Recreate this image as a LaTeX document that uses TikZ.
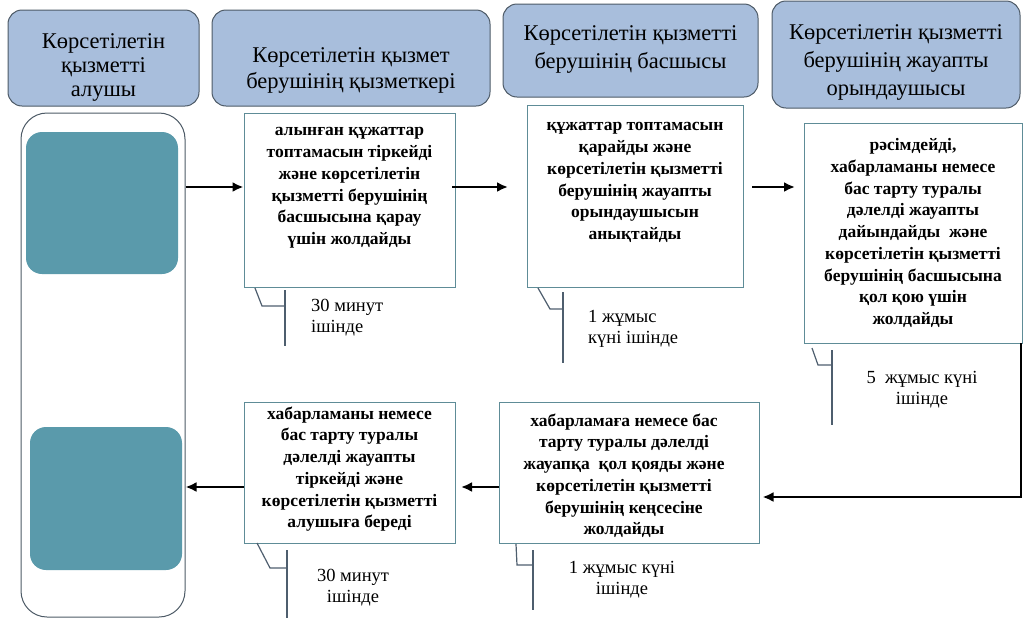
\documentclass[tikz,border=0pt]{standalone}
\usepackage{fontspec}
\setmainfont{Liberation Serif}
\newfontfamily\tnr{Liberation Serif}
\usetikzlibrary{arrows.meta}
\definecolor{headfill}{HTML}{A8BEDC}
\definecolor{headline}{HTML}{4D5A66}
\definecolor{tealfill}{HTML}{5A9AAB}
\definecolor{boxline}{HTML}{5E8C97}
\definecolor{callline}{HTML}{4E5E6E}
\tikzset{
  header/.style={draw=headline, line width=1pt, fill=headfill, rounded corners=14pt, inner sep=0pt},
  headtext/.style={align=center, font=\tnr\fontsize{22.5}{26}\selectfont, inner sep=0pt},
  stepbox/.style={draw=boxline, line width=1pt, fill=white, inner sep=0pt},
  steptext/.style={align=center, font=\tnr\bfseries\fontsize{17.5}{21.7}\selectfont, inner sep=0pt, anchor=north},
  tealbox/.style={fill=tealfill, rounded corners=16pt, inner sep=0pt},
  lane/.style={draw=headline, line width=1pt, rounded corners=26pt, inner sep=0pt},
  flow/.style={line width=2.6pt, -{Latex[length=11pt,width=10pt]}},
  bracket/.style={draw=callline, line width=1.2pt},
  timetext/.style={align=left, font=\tnr\fontsize{18.5}{21}\selectfont, inner sep=0pt},
}
\begin{document}
\begin{tikzpicture}[x=1pt,y=-1pt]
\useasboundingbox (0,0) rectangle (1023,619);

% column headers
\node[header, minimum width=191pt, minimum height=96pt] (h1) at (103.5,58) {};
\node[headtext, font=\tnr\fontsize{22.5}{24}\selectfont] (h1t) at ([yshift=-9pt]h1.center) {Көрсетілетін\\қызметті\\алушы};
\node[header, minimum width=278pt, minimum height=96pt] (h2) at (351,58) {};
\node[headtext] (h2t) at ([yshift=-12pt]h2.center) {Көрсетілетін қызмет\\берушінің қызметкері};
\node[header, minimum width=255pt, minimum height=93pt] (h3) at (630.5,50.5) {};
\node[headtext, font=\tnr\fontsize{22.5}{28}\selectfont] (h3t) at ([yshift=1pt]h3.center) {Көрсетілетін қызметті\\берушінің басшысы};
\node[header, minimum width=248pt, minimum height=107pt] (h4) at (896,54.5) {};
\node[headtext, font=\tnr\fontsize{22.5}{28}\selectfont] (h4t) at ([yshift=-8pt]h4.center) {Көрсетілетін қызметті\\берушінің жауапты\\орындаушысы};

% service recipient lane
\node[lane, minimum width=164pt, minimum height=504pt] (lane) at (103,365) {};
\node[tealbox, minimum width=152pt, minimum height=142pt] (r1) at (102,203) {};
\node[tealbox, minimum width=152pt, minimum height=143pt] (r2) at (106,498.5) {};

% process steps
\node[stepbox, minimum width=211pt, minimum height=174pt] (a) at (349.5,200) {};
\node[steptext] (at) at ([yshift=-15pt]a.north) {алынған құжаттар\\топтамасын тіркейді\\және көрсетілетін\\қызметті берушінің\\басшысына қарау\\үшін жолдайды};

\node[stepbox, minimum width=216pt, minimum height=182pt] (b) at (635,196) {};
\node[steptext] (bt) at ([yshift=-18pt]b.north) {құжаттар топтамасын\\қарайды және\\көрсетілетін қызметті\\берушінің жауапты\\орындаушысын\\анықтайды};

\node[stepbox, minimum width=218pt, minimum height=220pt] (c) at (913,233) {};
\node[steptext] (ct) at ([yshift=-16pt]c.north) {рәсімдейді,\\хабарламаны немесе\\бас тарту туралы\\дәлелді жауапты\\дайындайды\ \ және\\көрсетілетін қызметті\\берушінің басшысына\\қол қою үшін\\жолдайды};

\node[stepbox, minimum width=260pt, minimum height=141pt] (d) at (629,472.5) {};
\node[steptext] (dt) at ([xshift=-5pt,yshift=-12pt]d.north) {хабарламаға немесе бас\\тарту туралы дәлелді\\жауапқа\ \ қол қояды және\\көрсетілетін қызметті\\берушінің кеңсесіне\\жолдайды};

\node[stepbox, minimum width=211pt, minimum height=141pt] (e) at (349.5,472.5) {};
\node[steptext] (et) at ([yshift=-5pt]e.north) {хабарламаны немесе\\бас тарту туралы\\дәлелді жауапты\\тіркейді және\\көрсетілетін қызметті\\алушыға береді};

% flow arrows
\coordinate (ca) at (452,187);
\coordinate (cb) at (508,187);
\coordinate (cc) at (752,187);
\coordinate (cd) at (795,187);
\coordinate (ce) at (1021,343);
\coordinate (cf) at (1021,497);
\draw[flow] (lane.east |- 0,187) -- (a.west |- 0,187);
\draw[flow] (ca) -- (cb);
\draw[flow] (cc) -- (cd);
\draw[flow] (ce) -- (cf) -- ([xshift=3pt]d.east |- cf);
\draw[flow] (d.west |- 0,487) -- (461,487);
\draw[flow] (e.west |- 0,487) -- (lane.east |- 0,487);

% duration callouts
\draw[bracket] (255,288) -- (262,306) -- (285,306);
\draw[bracket] (285,290) -- (285,346);
\node[timetext, anchor=west] (ta) at (311,318) {30 минут\\ішінде};

\draw[bracket] (538,288) -- (550,309) -- (563,309);
\draw[bracket] (563,292) -- (563,363);
\node[timetext, anchor=west] (tb) at (588,329) {1 жұмыс\\күні ішінде};

\draw[bracket] (812,348) -- (818,365) -- (832,365);
\draw[bracket] (832,350) -- (832,425);
\node[timetext, align=center] (tc) at (922,390) {5\ \ жұмыс күні\\ішінде};

\draw[bracket] (516,544) -- (517,565) -- (533,565);
\draw[bracket] (533,550) -- (533,610);
\node[timetext, align=center] (td) at (622,580) {1 жұмыс күні\\ішінде};

\draw[bracket] (257,543) -- (270,568) -- (287,568);
\draw[bracket] (287,550) -- (287,618);
\node[timetext, align=center] (te) at (353,588) {30 минут\\ішінде};
\end{tikzpicture}
\end{document}
